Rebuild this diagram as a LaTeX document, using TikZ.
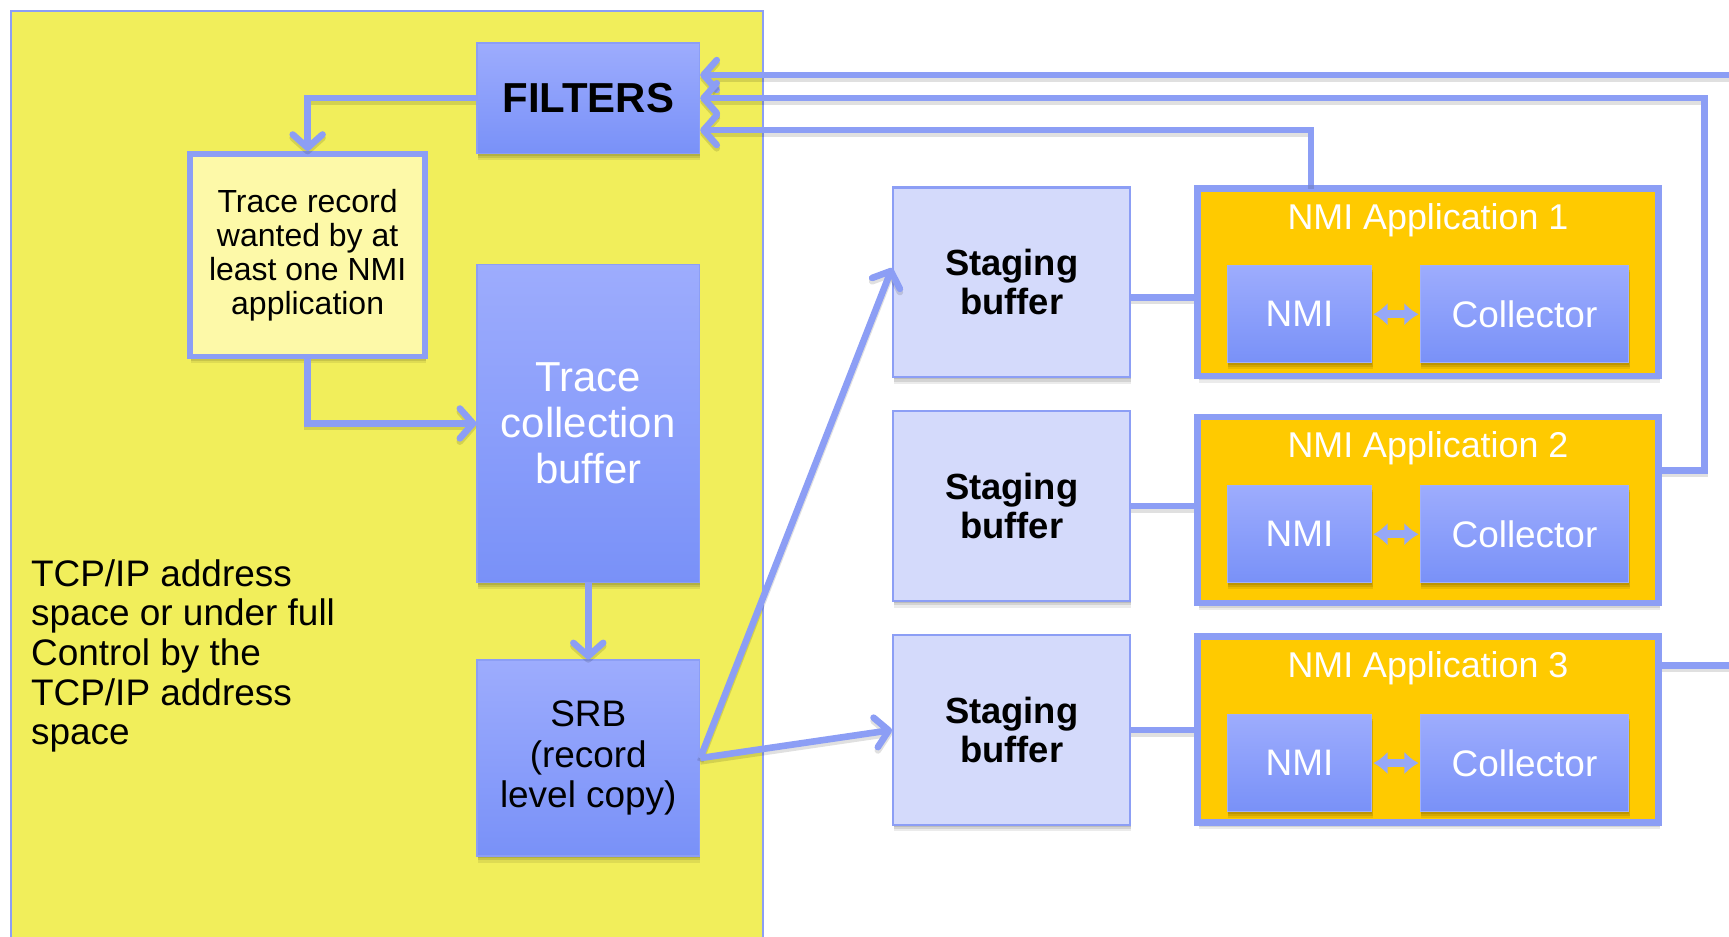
\documentclass[tikz,border=0pt]{standalone}
\usepackage{fontspec}
\setmainfont{Liberation Sans}
\usetikzlibrary{arrows.meta,shadows,calc}
\definecolor{ybg}{HTML}{F1EE5B}
\definecolor{lblue}{HTML}{8C9EF5}
\definecolor{btop}{HTML}{9DACFD}
\definecolor{bbot}{HTML}{7991F8}
\definecolor{stg}{HTML}{D4DAFB}
\definecolor{trec}{HTML}{FDF9A8}
\definecolor{gold}{HTML}{FFCA00}
\begin{document}
\begin{tikzpicture}[x=1pt,y=-1pt,
  shd/.style={drop shadow={shadow xshift=1pt,shadow yshift=-6pt,opacity=0.08,fill=black},
              drop shadow={shadow xshift=1pt,shadow yshift=-4pt,opacity=0.1,fill=black},
              drop shadow={shadow xshift=0.5pt,shadow yshift=-2pt,opacity=0.1,fill=black}},
  bluebox/.style={rectangle, top color=btop, bottom color=bbot, draw=lblue, line width=1.5pt, shd, align=center, inner sep=2pt},
  innerbox/.style={rectangle, top color=btop, bottom color=bbot, draw=lblue!80!white, line width=1pt, shd, align=center, inner sep=2pt, text=white, font=\fontsize{33.5}{37}\selectfont},
  stagebox/.style={rectangle, fill=stg, draw=lblue, line width=2pt, shd, align=center, minimum width=215pt, minimum height=172pt, font=\bfseries\fontsize{33}{35.5}\selectfont},
  appbox/.style={rectangle, fill=gold, draw=lblue, line width=6pt, shd, minimum width=418pt},
  apptitle/.style={anchor=base, text=white, font=\fontsize{32.5}{36}\selectfont, inner sep=0pt},
  lshd/.style={preaction={draw=black, opacity=0.12, line width=6pt, transform canvas={yshift=-3pt}}},
  conn/.style={draw=lblue, line width=6pt, lshd},
  arr/.style={conn, -{Straight Barb[length=12pt,width=27pt,round]}},
  dbl/.style={draw=lblue!90!white, line width=7pt, {Latex[length=13pt,width=21pt]}-{Latex[length=13pt,width=21pt]}, shorten <=1pt, shorten >=1pt}
]
\useasboundingbox (0,0) rectangle (1568,849);
\fill[white] (0,0) rectangle (1568,849);
\clip (0,0) rectangle (1568,849);
\draw[lblue, line width=1.5pt, fill=ybg] (10,10) rectangle (692,880);

% left column
\node[bluebox, minimum width=201.5pt, minimum height=100.5pt, font=\bfseries\fontsize{38}{40}\selectfont] (filters) at (533.5,89) {FILTERS};
\node[rectangle, fill=trec, draw=lblue, line width=5pt, shd, minimum width=213pt, minimum height=184pt, align=center, font=\fontsize{29}{31}\selectfont] (tracerec) at (279,231.5) {Trace record\\wanted by at\\least one NMI\\application};
\node[bluebox, minimum width=201.5pt, minimum height=288.5pt, text=white, font=\fontsize{38}{41.5}\selectfont] (tcb) at (533.5,384) {Trace\\collection\\buffer};
\node[bluebox, minimum width=201.5pt, minimum height=177.5pt, font=\fontsize{33.5}{36.5}\selectfont] (srb) at (533.5,687.5) {SRB\\(record\\level copy)};
\node[anchor=north west, align=left, inner sep=0pt, font=\fontsize{33.5}{36}\selectfont] (tcpip) at (28,507) {TCP/IP address\\space or under full\\Control by the\\TCP/IP address\\space};

% staging buffers
\node[stagebox] (sb1) at (917.5,256) {Staging\\buffer};
\node[stagebox] (sb2) at (917.5,459) {Staging\\buffer};
\node[stagebox] (sb3) at (917.5,662) {Staging\\buffer};

% applications
\node[appbox, minimum height=170pt] (app1) at (1295,256) {};
\node[appbox, minimum height=169pt] (app2) at (1295,462.5) {};
\node[appbox, minimum height=169pt] (app3) at (1295,661.5) {};
\node[apptitle] (t1) at (1295,208) {NMI Application 1};
\node[apptitle] (t2) at (1295,415) {NMI Application 2};
\node[apptitle] (t3) at (1295,614) {NMI Application 3};

\node[innerbox, minimum width=131pt, minimum height=88pt] (nmi1) at (1178.5,285) {NMI};
\node[innerbox, minimum width=189pt, minimum height=88pt] (col1) at (1382.5,285) {Collector};
\node[innerbox, minimum width=131pt, minimum height=88pt] (nmi2) at (1178.5,484.5) {NMI};
\node[innerbox, minimum width=189pt, minimum height=88pt] (col2) at (1382.5,484.5) {Collector};
\node[innerbox, minimum width=131pt, minimum height=88pt] (nmi3) at (1178.5,692) {NMI};
\node[innerbox, minimum width=189pt, minimum height=88pt] (col3) at (1382.5,692) {Collector};

\draw[dbl] (nmi1.east) -- (col1.west);
\draw[dbl] (nmi2.east) -- (col2.west);
\draw[dbl] (nmi3.east) -- (col3.west);

% left flow
\draw[arr] (filters.west) -| (tracerec.north);
\draw[arr] (tracerec.south) |- (tcb.west);
\draw[arr] (tcb.south) -- (srb.north);
\draw[arr] (srb.east) -- ($(sb1.west)+(0,-13)$);
\draw[arr] (srb.east) -- (sb3.west);

% staging to apps
\draw[conn] ($(sb1.east)+(0,14)$) -- ($(app1.west)+(0,14)$);
\draw[conn] (sb2.east) -- (sb2.east -| app2.west);
\draw[conn] (sb3.east) -- (sb3.east -| app3.west);

% feedback to filters
\coordinate (e1) at (1575,68);
\draw[arr] (e1) -- (e1 -| filters.east);
\draw[arr] ($(app2.east)+(0,-36)$) -- ++(39,0) |- (filters.east);
\draw[arr] ($(app1.north)+(-106,0)$) |- ($(filters.east)+(0,29)$);
\draw[conn] ($(app3.east)+(0,-58)$) -- ++(80,0);
\end{tikzpicture}
\end{document}
